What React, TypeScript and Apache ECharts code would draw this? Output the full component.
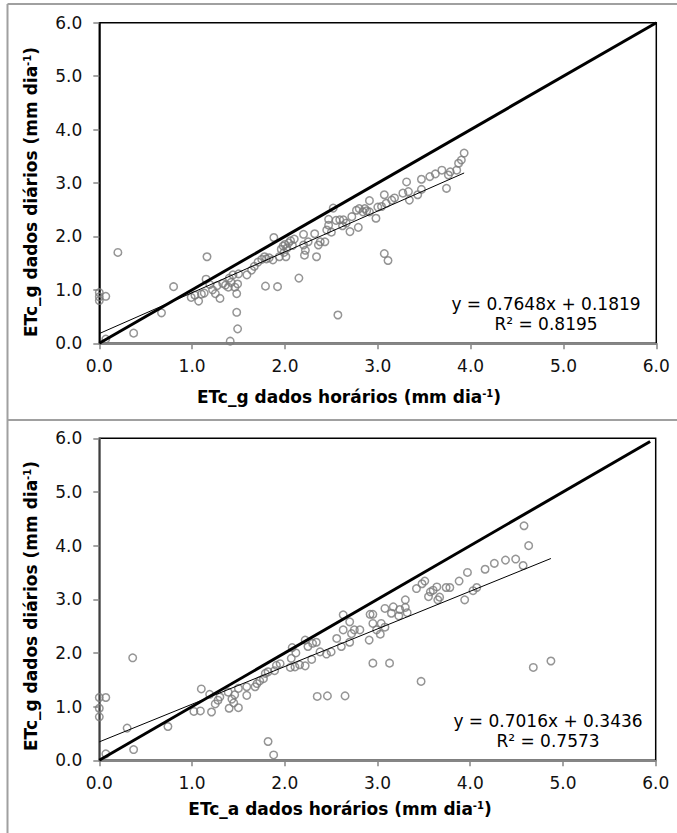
import { useEffect, useRef } from 'react';
import * as echarts from 'echarts';

// ETc_g (daily data) against ETc_g from hourly data, mm/day
const gPoints: [number, number][] = [
  [0.00, 0.95], [0.00, 0.87], [0.00, 0.80], [0.07, 0.88], [0.07, 0.08], [0.20, 1.70], [0.37, 0.19],
  [0.67, 0.57], [0.80, 1.06], [0.99, 0.86], [1.03, 0.90], [1.07, 0.79], [1.10, 0.92], [1.13, 0.94],
  [1.15, 1.20], [1.16, 1.62], [1.19, 1.10], [1.22, 1.00], [1.25, 0.93], [1.27, 1.08], [1.30, 0.84],
  [1.33, 1.12], [1.36, 1.09], [1.39, 1.05], [1.40, 1.22], [1.42, 1.14], [1.44, 1.28], [1.46, 1.05],
  [1.48, 0.93], [1.49, 1.11], [1.50, 1.30], [1.48, 0.58], [1.49, 0.27], [1.41, 0.04], [1.59, 1.28],
  [1.64, 1.37], [1.67, 1.44], [1.71, 1.52], [1.75, 1.57], [1.78, 1.62], [1.80, 1.58], [1.83, 1.60],
  [1.87, 1.56], [1.79, 1.07], [1.92, 1.06], [1.88, 1.98], [1.94, 1.62], [1.96, 1.76], [1.98, 1.82],
  [1.99, 1.70], [2.00, 1.85], [2.01, 1.62], [2.02, 1.78], [2.04, 1.88], [2.06, 1.92], [2.08, 1.83],
  [2.10, 1.95], [2.15, 1.22], [2.20, 2.04], [2.20, 1.84], [2.21, 1.65], [2.22, 1.74], [2.25, 1.90],
  [2.32, 2.05], [2.34, 1.62], [2.36, 1.84], [2.38, 1.90], [2.43, 1.90], [2.45, 2.12], [2.47, 2.21],
  [2.47, 2.32], [2.50, 2.08], [2.52, 2.53], [2.55, 2.30], [2.57, 0.53], [2.59, 2.31], [2.62, 2.20],
  [2.63, 2.31], [2.66, 2.25], [2.70, 2.09], [2.72, 2.37], [2.77, 2.49], [2.79, 2.17], [2.80, 2.52],
  [2.84, 2.46], [2.86, 2.52], [2.88, 2.48], [2.91, 2.67], [2.91, 2.46], [2.98, 2.34], [3.00, 2.55],
  [3.04, 2.56], [3.07, 1.68], [3.11, 1.55], [3.07, 2.78], [3.09, 2.62], [3.15, 2.68], [3.18, 2.72],
  [3.27, 2.81], [3.31, 3.02], [3.33, 2.84], [3.34, 2.68], [3.43, 2.78], [3.47, 3.07], [3.47, 2.88],
  [3.56, 3.12], [3.62, 3.17], [3.69, 3.24], [3.74, 2.90], [3.76, 3.15], [3.78, 3.21], [3.85, 3.24],
  [3.87, 3.37], [3.90, 3.43], [3.93, 3.56],
];

// ETc_g (daily data) against ETc_a from hourly data, mm/day
const aPoints: [number, number][] = [
  [0.00, 1.17], [0.07, 1.17], [0.00, 0.97], [0.00, 0.81], [0.07, 0.12], [0.36, 1.91], [0.37, 0.20],
  [0.30, 0.60], [0.74, 0.63], [1.02, 0.91], [1.09, 0.92], [1.10, 1.33], [1.19, 1.23], [1.21, 0.90],
  [1.25, 1.05], [1.28, 1.12], [1.30, 1.18], [1.39, 1.27], [1.40, 0.97], [1.43, 1.14], [1.45, 1.07],
  [1.46, 1.22], [1.50, 0.98], [1.50, 1.34], [1.59, 1.21], [1.59, 1.37], [1.68, 1.37], [1.70, 1.43],
  [1.73, 1.48], [1.77, 1.52], [1.79, 1.62], [1.82, 1.65], [1.89, 1.67], [1.91, 1.77], [1.95, 1.80],
  [1.82, 0.35], [1.88, 0.10], [2.06, 1.73], [2.07, 1.90], [2.08, 2.10], [2.11, 1.74], [2.16, 1.78],
  [2.22, 1.76], [2.12, 2.00], [2.22, 2.24], [2.25, 2.12], [2.30, 2.18], [2.34, 2.20], [2.29, 1.88],
  [2.38, 2.02], [2.45, 1.98], [2.50, 2.02], [2.35, 1.19], [2.46, 1.20], [2.65, 1.20], [2.56, 2.27],
  [2.61, 2.12], [2.63, 2.71], [2.63, 2.43], [2.70, 2.58], [2.70, 2.20], [2.72, 2.36], [2.75, 2.43],
  [2.81, 2.43], [2.91, 2.24], [2.92, 2.72], [2.95, 2.72], [2.95, 2.55], [2.95, 1.81], [2.99, 2.43],
  [3.03, 2.35], [3.04, 2.55], [3.08, 2.48], [3.08, 2.83], [3.13, 1.81], [3.15, 2.74], [3.17, 2.86],
  [3.23, 2.69], [3.24, 2.81], [3.30, 2.99], [3.30, 2.85], [3.32, 2.75], [3.42, 3.20], [3.48, 3.29],
  [3.51, 3.34], [3.47, 1.47], [3.55, 3.05], [3.57, 3.14], [3.60, 3.17], [3.64, 3.23], [3.65, 2.99],
  [3.67, 3.04], [3.74, 3.22], [3.78, 3.22], [3.88, 3.34], [3.94, 2.99], [3.97, 3.50], [4.03, 3.16],
  [4.07, 3.22], [4.16, 3.56], [4.26, 3.67], [4.38, 3.73], [4.49, 3.75], [4.57, 3.63], [4.58, 4.37],
  [4.63, 4.00], [4.68, 1.73], [4.87, 1.85],
];

// Linear fits printed on each panel
const gFit = { slope: 0.7648, intercept: 0.1819, r2: '0.8195' };
const aFit = { slope: 0.7016, intercept: 0.3436, r2: '0.7573' };

const axisTicks = [0, 1, 2, 3, 4, 5, 6];
const xTitles = ['ETc_g dados horários (mm dia', 'ETc_a dados horários (mm dia'];
const yTitle = 'ETc_g dados diários (mm dia';
const unitExponent = '-1';

const FONT = 'DejaVu Sans';

function fitLine(points: [number, number][], fit: { slope: number; intercept: number }) {
  const xs = points.map((p) => p[0]);
  const x0 = Math.min(...xs);
  const x1 = Math.max(...xs);
  return [
    [x0, fit.slope * x0 + fit.intercept],
    [x1, fit.slope * x1 + fit.intercept],
  ];
}

function eqText(fit: { slope: number; intercept: number; r2: string }) {
  return `y = ${fit.slope.toFixed(4)}x + ${fit.intercept.toFixed(4)}\nR² = ${fit.r2}`;
}

// bold axis title with a superscript exponent on the unit
function titleStyle(base: string) {
  return {
    text: `{b|${base}}{s|${unitExponent}}{b|)}`,
    align: 'center',
    verticalAlign: 'middle',
    fill: '#000',
    rich: {
      b: { fontFamily: FONT, fontSize: 17, fontWeight: 'bold', fill: '#000', lineHeight: 20 },
      s: { fontFamily: FONT, fontSize: 10, fontWeight: 'bold', fill: '#000', verticalAlign: 'top', padding: [1, 0, 0, 0] },
    },
  };
}

export default function App() {
  const ref = useRef<HTMLDivElement>(null);

  useEffect(() => {
    if (!ref.current) return;
    const chart = echarts.init(ref.current, undefined, { renderer: 'svg' });

    const grids = [
      { left: 99.3, top: 22.7, width: 557, height: 320.6 },
      { left: 99.3, top: 438.3, width: 556.4, height: 322 },
    ];

    const axisBase = (gridIndex: number) => ({
      type: 'value' as const,
      gridIndex,
      min: 0,
      max: 6,
      interval: 1,
      splitLine: { show: false },
      axisTick: { show: true, length: 6, lineStyle: { color: '#868686', width: 1.5 } },
    });

    const xAxes = grids.map((_, i) => ({
      ...axisBase(i),
      axisLine: { show: true, onZero: false, lineStyle: { color: '#868686', width: 2 } },
      axisLabel: {
        formatter: (v: number) => (axisTicks.includes(v) ? v.toFixed(1) : ''),
        fontSize: 17,
        fontFamily: FONT,
        color: '#111',
        margin: 14,
      },
    }));

    const yAxes = grids.map((_, i) => ({
      ...axisBase(i),
      axisLine: { show: true, onZero: false, lineStyle: { color: i === 0 ? '#000' : '#555', width: 1.5 } },
      axisLabel: {
        formatter: (v: number) => (axisTicks.includes(v) ? v.toFixed(1) : ''),
        fontSize: 17,
        fontFamily: FONT,
        color: '#111',
        margin: 17,
      },
    }));

    const scatter = (data: [number, number][], i: number) => ({
      type: 'scatter' as const,
      xAxisIndex: i,
      yAxisIndex: i,
      data,
      symbol: 'circle',
      symbolSize: 7.5,
      itemStyle: { color: 'rgba(255,255,255,0)', borderColor: '#7a7a7a', borderWidth: 1.5 },
      silent: true,
      z: 2,
    });

    const line = (data: number[][], i: number, width: number) => ({
      type: 'line' as const,
      xAxisIndex: i,
      yAxisIndex: i,
      data,
      symbol: 'none',
      lineStyle: { color: '#000', width },
      silent: true,
      z: width > 2 ? 4 : 3,
    });

    const textStyle = { fontFamily: FONT, fill: '#000' };

    chart.setOption({
      animation: false,
      backgroundColor: '#fff',
      grid: grids.map((g) => ({ ...g, show: true, borderColor: '#000', borderWidth: 1.5, backgroundColor: 'transparent' })),
      xAxis: xAxes,
      yAxis: yAxes,
      series: [
        scatter(gPoints, 0),
        line(fitLine(gPoints, gFit), 0, 1),
        line([[0, 0], [6, 6]], 0, 3),
        scatter(aPoints, 1),
        line(fitLine(aPoints, aFit), 1, 1),
        line([[0, 0], [5.94, 5.94]], 1, 3),
      ],
      graphic: [
        // panel frame
        { type: 'line', shape: { x1: 7.5, y1: 4, x2: 677, y2: 4 }, style: { stroke: '#a0a0a0', lineWidth: 2 } },
        { type: 'line', shape: { x1: 7.5, y1: 420, x2: 677, y2: 420 }, style: { stroke: '#a0a0a0', lineWidth: 2 } },
        { type: 'line', shape: { x1: 7.5, y1: 4, x2: 7.5, y2: 833 }, style: { stroke: '#a0a0a0', lineWidth: 2 } },
        // axis titles
        { type: 'text', x: 349, y: 397, style: titleStyle(xTitles[0]) },
        { type: 'text', x: 340, y: 809, style: titleStyle(xTitles[1]) },
        { type: 'text', x: 31, y: 192, rotation: Math.PI / 2, style: titleStyle(yTitle) },
        { type: 'text', x: 31, y: 606, rotation: Math.PI / 2, style: titleStyle(yTitle) },
        // regression equations
        {
          type: 'text', x: 546, y: 314,
          style: { ...textStyle, text: eqText(gFit), fontSize: 17, lineHeight: 19.5, align: 'center', verticalAlign: 'middle' },
        },
        {
          type: 'text', x: 548, y: 731,
          style: { ...textStyle, text: eqText(aFit), fontSize: 17, lineHeight: 19.5, align: 'center', verticalAlign: 'middle' },
        },
      ],
    });

    return () => chart.dispose();
  }, []);

  return (
    <div
      ref={ref}
      style={{ position: 'absolute', left: 0, top: 0, width: 677, height: 833, background: '#fff' }}
    />
  );
}
